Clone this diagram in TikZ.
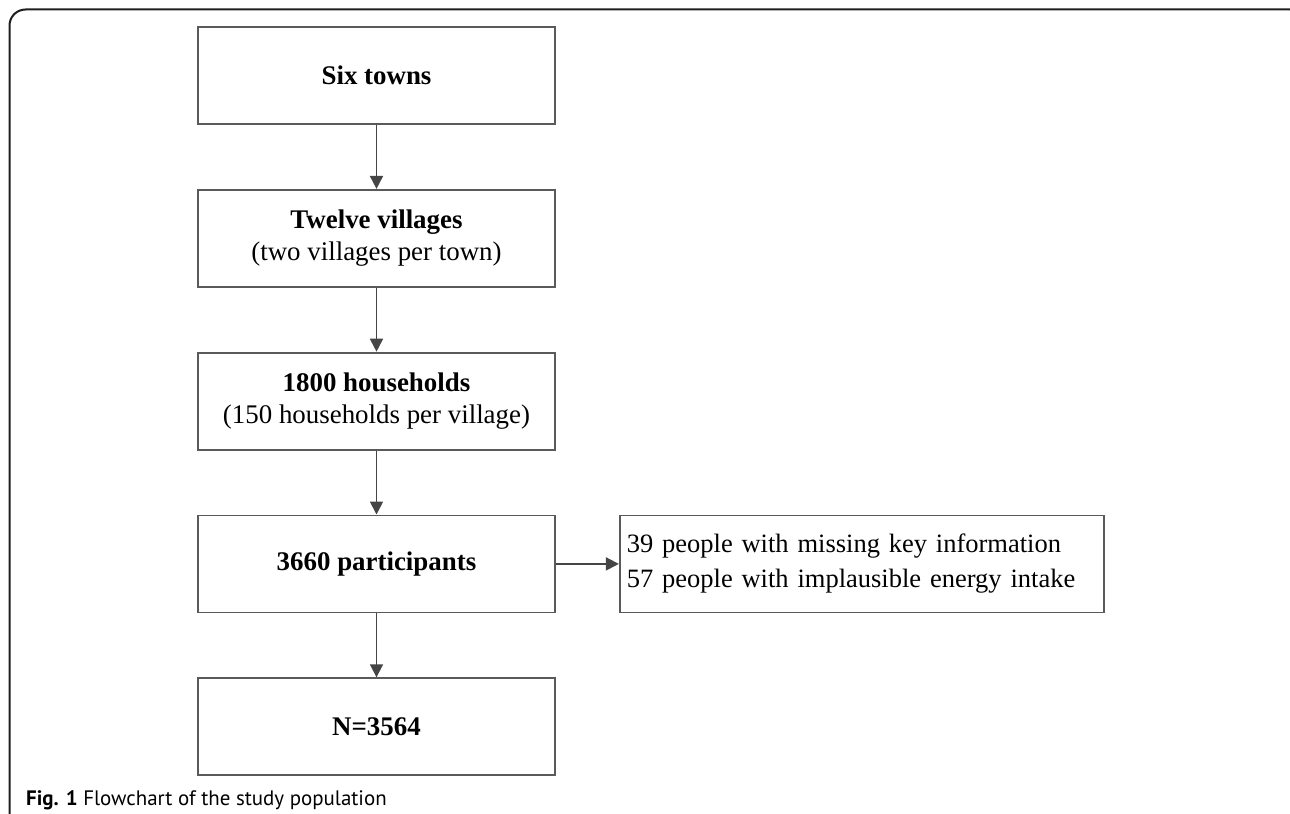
\documentclass[tikz,border=0pt]{standalone}
\usepackage{fontspec}
\setmainfont{Liberation Serif}
\newfontfamily\capfont{PT Sans}
\usetikzlibrary{positioning,arrows.meta}
\definecolor{boxgray}{HTML}{5A5A5A}
\definecolor{arrowgray}{HTML}{454545}
\definecolor{framegray}{HTML}{1E1E1E}

\begin{document}
\begin{tikzpicture}[x=1bp,y=-1bp,>={Triangle[length=13bp,width=13bp]},node distance=64bp,
  stage/.style={draw=boxgray,line width=1.8bp,minimum width=357bp,minimum height=97bp,align=center,
    font=\fontsize{27}{32}\selectfont},
  excl/.style={draw=boxgray,line width=1.8bp,minimum height=97bp,text width=470bp,inner xsep=7bp,align=left,
    font=\fontsize{26.6}{35}\selectfont},
  flow/.style={->,draw=arrowgray,line width=1.8bp}]
  \useasboundingbox (0,0) rectangle (1290,814);
  \draw[framegray,line width=2bp,rounded corners=16bp] (9.5,9.5) rectangle (1306,840);

  \node[stage] (towns) at (376.5,75.5) {\textbf{Six towns}};
  \node[stage] (villages) [below=of towns] {\textbf{Twelve villages}\\(two villages per town)};
  \node[stage] (households) [below=of villages] {\textbf{1800 households}\\(150 households per village)};
  \node[stage] (participants) [below=of households] {\textbf{3660 participants}};
  \node[stage] (final) [below=of participants] {\textbf{N=3564}};
  \node[excl] (excluded) [right=63bp of participants] {39 people with missing key information\\57 people with implausible energy intake};

  \draw[flow] (towns) -- (villages);
  \draw[flow] (villages) -- (households);
  \draw[flow] (households) -- (participants);
  \draw[flow] (participants) -- (final);
  \draw[flow] (participants) -- (excluded);

  \node[anchor=base west,inner sep=0pt,font=\capfont\fontsize{21}{24}\selectfont] (caption) at (26,805.7)
    {\textbf{Fig. 1} Flowchart of the study population};
\end{tikzpicture}
\end{document}
